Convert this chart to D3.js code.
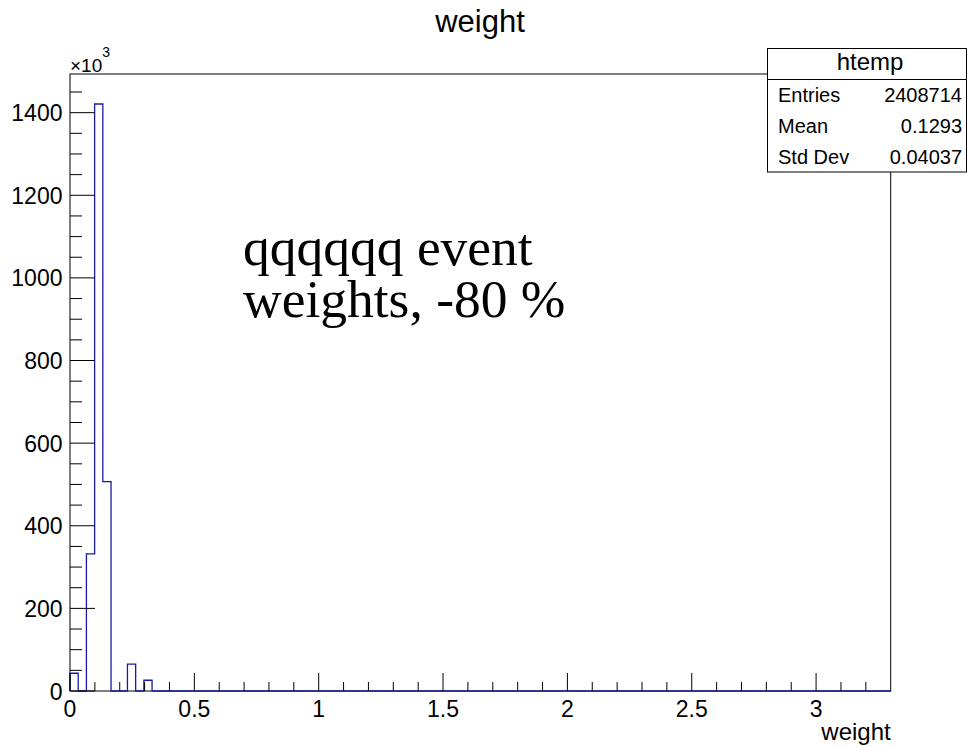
<!DOCTYPE html>
<html>
<head>
<meta charset="utf-8">
<script src="https://cdn.jsdelivr.net/npm/d3@7"></script>
<style>
  html, body { margin: 0; padding: 0; background: #fff; }
  svg text { font-family: "Liberation Sans", Arial, Helvetica, sans-serif; fill: #000; }
</style>
</head>
<body>
<svg id="chart" width="967" height="747"></svg>
<script>
// ---- data (counts in units of 10^3) ----
const binLow = 0;
const binWidth = 0.033;
const binCounts = [43, 0, 332, 1421, 507, 0, 0, 65, 0, 26,
  0,0,0,0,0,0,0,0,0,0, 0,0,0,0,0,0,0,0,0,0,
  0,0,0,0,0,0,0,0,0,0, 0,0,0,0,0,0,0,0,0,0,
  0,0,0,0,0,0,0,0,0,0, 0,0,0,0,0,0,0,0,0,0,
  0,0,0,0,0,0,0,0,0,0, 0,0,0,0,0,0,0,0,0,0,
  0,0,0,0,0,0,0,0,0,0];
const xTickLabels = [0, 0.5, 1, 1.5, 2, 2.5, 3];
const yTickLabels = [0, 200, 400, 600, 800, 1000, 1200, 1400];
const statsRows = [["Entries", "2408714"], ["Mean", "0.1293"], ["Std Dev", "0.04037"]];
const titleText = "weight";
const xAxisTitle = "weight";
const histName = "htemp";
const noteLines = ["qqqqqq event", "weights, -80 %"];

// ---- layout ----
const svg = d3.select("#chart");
const L = 70, R = 890.7, T = 74, B = 691;
const xMax = binLow + binWidth * binCounts.length;
const x = d3.scaleLinear().domain([0, xMax]).range([L, R]);
const yTop = 1493.6;
const y = d3.scaleLinear().domain([0, yTop]).range([B, T]);

// frame
svg.append("rect").attr("x", L).attr("y", T).attr("width", R - L).attr("height", B - T)
  .attr("fill", "none").attr("stroke", "#000").attr("stroke-width", 1);

// histogram outline
const pts = [[x(binLow), y(0)]];
binCounts.forEach((c, i) => {
  const x0 = x(binLow + i * binWidth), x1 = x(binLow + (i + 1) * binWidth);
  pts.push([x0, y(c)], [x1, y(c)]);
});
pts.push([x(xMax), y(0)]);
svg.append("path").attr("d", d3.line()(pts))
  .attr("fill", "none").attr("stroke", "#1a1aa6").attr("stroke-width", 1.3);

// x axis ticks (inside, upward)
const xMinor = d3.range(0, 33).map(i => i * 0.1).filter(v => v <= xMax + 1e-9);
svg.append("g").selectAll("line").data(xMinor).join("line")
  .attr("x1", d => x(d)).attr("x2", d => x(d))
  .attr("y1", B).attr("y2", d => (Math.abs(d * 2 - Math.round(d * 2)) < 1e-6) ? B - 18 : B - 9)
  .attr("stroke", "#000").attr("stroke-width", 1);
svg.append("g").selectAll("text").data(xTickLabels).join("text")
  .attr("x", d => x(d)).attr("y", 717).attr("text-anchor", "middle")
  .attr("font-size", 23).text(d => d);
svg.append("text").attr("x", R).attr("y", 740).attr("text-anchor", "end")
  .attr("font-size", 24).text(xAxisTitle);

// y axis ticks (inside, rightward)
const yMinor = d3.range(0, 30).map(i => i * 50).filter(v => v <= yTop);
svg.append("g").selectAll("line").data(yMinor).join("line")
  .attr("y1", d => y(d)).attr("y2", d => y(d))
  .attr("x1", L).attr("x2", d => (d % 200 === 0) ? L + 25 : L + 12)
  .attr("stroke", "#000").attr("stroke-width", 1);
svg.append("g").selectAll("text").data(yTickLabels).join("text")
  .attr("x", 62.5).attr("y", d => y(d) + 8.5).attr("text-anchor", "end")
  .attr("font-size", 23).text(d => d);

// x10^3
const mult = svg.append("text").attr("x", 70).attr("y", 72).attr("font-size", 19);
mult.append("tspan").text("\u00d710");
mult.append("tspan").attr("dy", -15).attr("font-size", 14).text("3");

// title
svg.append("text").attr("x", 480).attr("y", 32).attr("text-anchor", "middle")
  .attr("font-size", 31).text(titleText);

// annotation (one text block, two lines)
const note = svg.append("text").attr("x", 243).attr("y", 265)
  .attr("font-size", 53.5)
  .style("font-family", "'Liberation Serif', 'Times New Roman', Times, serif");
note.selectAll("tspan").data(noteLines).join("tspan")
  .attr("x", 243).attr("dy", (d, i) => i === 0 ? 0 : 52)
  .text(d => d);

// stats box
const bx = 767.5, by = 48.5, bw = 199, bh = 123.5;
svg.append("rect").attr("x", bx).attr("y", by).attr("width", bw).attr("height", bh)
  .attr("fill", "#fff").attr("stroke", "#000").attr("stroke-width", 1);
svg.append("line").attr("x1", bx).attr("x2", bx + bw).attr("y1", 79.5).attr("y2", 79.5)
  .attr("stroke", "#000").attr("stroke-width", 1);
svg.append("text").attr("x", 870).attr("y", 70).attr("text-anchor", "middle")
  .attr("font-size", 24).text(histName);
statsRows.forEach((r, i) => {
  const yy = 102 + i * 31;
  svg.append("text").attr("x", 778).attr("y", yy).attr("font-size", 20).text(r[0]);
  svg.append("text").attr("x", 962).attr("y", yy).attr("text-anchor", "end").attr("font-size", 20).text(r[1]);
});
</script>
</body>
</html>
